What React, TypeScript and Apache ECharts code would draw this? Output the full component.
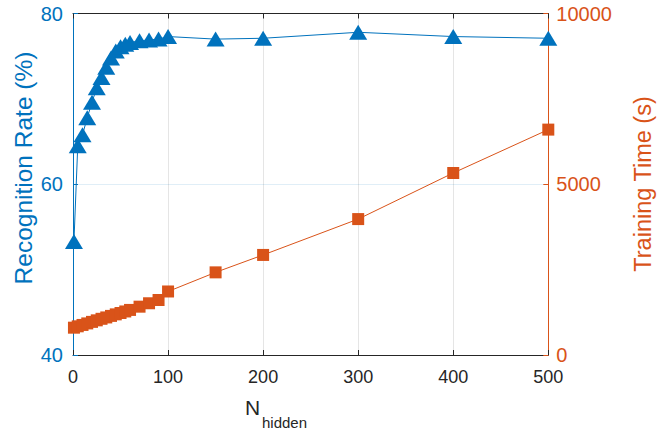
import React, { useEffect, useRef } from "react";
import * as echarts from "echarts";

// Hidden-layer size sweep
const nHidden = [1, 5, 10, 15, 20, 25, 30, 35, 40, 45, 50, 55, 60, 70, 80, 90, 100, 150, 200, 300, 400, 500];
// Recognition rate (%) per hidden-layer size
const recognitionRate = [53.3, 64.5, 65.8, 67.8, 69.6, 71.3, 72.5, 73.7, 74.8, 75.6, 76.1, 76.4, 76.6, 76.8, 76.9, 77.0, 77.3, 77.0, 77.1, 77.8, 77.3, 77.1];
// Training time (s) per hidden-layer size
const trainingTime = [800, 840, 880, 925, 970, 1015, 1060, 1100, 1145, 1190, 1230, 1275, 1320, 1415, 1515, 1610, 1860, 2420, 2930, 3980, 5330, 6600];

const xTicks = [0, 100, 200, 300, 400, 500];
const rateTicks = [40, 60, 80];
const timeTicks = [0, 5000, 10000];

const BLUE = "#0072BD";
const ORANGE = "#D95319";
const DARK = "#262626";
const FONT = "'Liberation Sans', Arial, Helvetica, sans-serif";

export default function App() {
  const ref = useRef<HTMLDivElement>(null);

  useEffect(() => {
    document.body.style.margin = "0";
    const chart = echarts.init(ref.current!, undefined, { renderer: "svg" });

    const rateData = nHidden.map((x, i) => [x, recognitionRate[i]]);
    const timeData = nHidden.map((x, i) => [x, trainingTime[i]]);

    chart.setOption({
      animation: false,
      backgroundColor: "#ffffff",
      grid: { left: 73, right: 111.7, top: 13.5, bottom: 78, containLabel: false },
      xAxis: [
        {
          type: "value",
          position: "bottom",
          min: xTicks[0],
          max: xTicks[xTicks.length - 1],
          interval: 100,
          axisLine: { show: true, onZero: false, lineStyle: { color: DARK, width: 1 } },
          axisTick: { show: true, inside: true, length: 5, lineStyle: { color: DARK } },
          axisLabel: { color: DARK, fontSize: 18, fontFamily: FONT, margin: 13 },
          splitLine: { show: true, lineStyle: { color: "rgba(38,38,38,0.12)", width: 1 } },
        },
        {
          type: "value",
          position: "top",
          min: xTicks[0],
          max: xTicks[xTicks.length - 1],
          interval: 100,
          axisLine: { show: true, onZero: false, lineStyle: { color: DARK, width: 1 } },
          axisTick: { show: true, inside: true, length: 5, lineStyle: { color: DARK } },
          axisLabel: { show: false },
          splitLine: { show: false },
        },
      ],
      yAxis: [
        {
          type: "value",
          position: "left",
          min: rateTicks[0],
          max: rateTicks[rateTicks.length - 1],
          interval: 20,
          axisLine: { show: true, onZero: false, lineStyle: { color: BLUE, width: 1 } },
          axisTick: { show: true, inside: true, length: 5, lineStyle: { color: BLUE } },
          axisLabel: { color: BLUE, fontSize: 20, fontFamily: FONT, margin: 10 },
          splitLine: { show: true, lineStyle: { color: "rgba(0,114,189,0.12)", width: 1 } },
        },
        {
          type: "value",
          position: "right",
          min: timeTicks[0],
          max: timeTicks[timeTicks.length - 1],
          interval: 5000,
          axisLine: { show: true, onZero: false, lineStyle: { color: ORANGE, width: 1 } },
          axisTick: { show: true, inside: true, length: 5, lineStyle: { color: ORANGE } },
          axisLabel: {
            color: ORANGE,
            fontSize: 20,
            fontFamily: FONT,
            margin: 8,
            formatter: (v: number) => String(v),
          },
          splitLine: { show: false },
        },
      ],
      series: [
        {
          name: "Training Time",
          type: "line",
          xAxisIndex: 0,
          yAxisIndex: 1,
          data: timeData,
          symbol: "rect",
          symbolSize: 12,
          lineStyle: { color: ORANGE, width: 1 },
          itemStyle: { color: ORANGE },
        },
        {
          name: "Recognition Rate",
          type: "line",
          xAxisIndex: 0,
          yAxisIndex: 0,
          data: rateData,
          symbol: "triangle",
          symbolSize: [18, 15],
          lineStyle: { color: BLUE, width: 1 },
          itemStyle: { color: BLUE },
        },
      ],
      graphic: [
        {
          type: "text",
          x: 23,
          y: 168,
          rotation: Math.PI / 2,
          style: {
            text: "Recognition Rate (%)",
            fill: BLUE,
            font: `24.5px ${FONT}`,
            align: "center",
            verticalAlign: "middle",
          },
        },
        {
          type: "text",
          x: 643,
          y: 184,
          rotation: Math.PI / 2,
          style: {
            text: "Training Time (s)",
            fill: ORANGE,
            font: `23.5px ${FONT}`,
            align: "center",
            verticalAlign: "middle",
          },
        },
        {
          type: "text",
          x: 245,
          y: 407.5,
          style: {
            text: "N",
            fill: DARK,
            font: `21px ${FONT}`,
            align: "left",
            verticalAlign: "middle",
          },
        },
        {
          type: "text",
          x: 262,
          y: 422.5,
          style: {
            text: "hidden",
            fill: DARK,
            font: `15px ${FONT}`,
            align: "left",
            verticalAlign: "middle",
          },
        },
      ],
    });

    return () => chart.dispose();
  }, []);

  return (
    <div
      ref={ref}
      style={{ position: "absolute", left: 0, top: 0, width: 660, height: 433 }}
    />
  );
}
